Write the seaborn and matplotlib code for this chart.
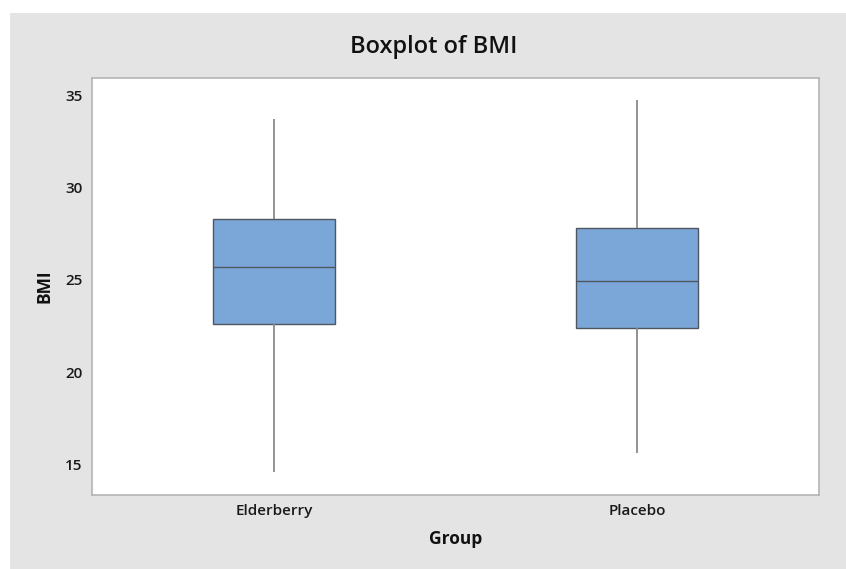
import pandas as pd
import matplotlib.pyplot as plt
import seaborn as sns
from matplotlib.patches import Rectangle

# five-number summaries: min, Q1, median, Q3, max
groups = ['Elderberry', 'Placebo']
elderberry_bmi = [14.61, 22.62, 25.72, 28.29, 33.73]
placebo_bmi = [15.61, 22.40, 24.95, 27.80, 34.76]
y_ticks = [15, 20, 25, 30, 35]

df = pd.DataFrame({
    'Group': [groups[0]] * len(elderberry_bmi) + [groups[1]] * len(placebo_bmi),
    'BMI': elderberry_bmi + placebo_bmi,
})

sns.set_style('white')
plt.rcParams['font.family'] = ['Open Sans', 'DejaVu Sans']

W, H = 846, 569
fig = plt.figure(figsize=(W / 100, H / 100), dpi=100)
fig.patch.set_facecolor('white')
# grey chart frame, minitab style
fig.patches.append(Rectangle((10 / W, 0), 1 - 10 / W, 1 - 13 / H,
                             transform=fig.transFigure, facecolor='#e4e4e4',
                             edgecolor='none', zorder=-10))

ax = fig.add_axes([92.3 / W, 1 - 494.7 / H, (818.7 - 92.3) / W, (494.7 - 77.7) / H])
ax.set_facecolor('white')

sns.boxplot(data=df, x='Group', y='BMI', order=groups, ax=ax, width=0.334,
            whis=(0, 100), color='#7BA7D8', saturation=1, linecolor='#4f5660',
            linewidth=1.0, showcaps=False, fliersize=0,
            boxprops=dict(edgecolor='#4f5660'),
            whiskerprops=dict(color='#8a8a8a', linewidth=1.3),
            medianprops=dict(color='#4f5660', linewidth=1.0))

ax.set_xlim(-0.5, 1.5)
ax.set_ylim(13.36, 35.96)
ax.set_yticks(y_ticks)

for s in ax.spines.values():
    s.set_color('#b4b4b4')
    s.set_linewidth(1.2)

ax.tick_params(axis='both', which='major', direction='out', length=4, width=0.8,
               color='#a0a0a0', labelsize=11, pad=3)
for lab in ax.get_xticklabels() + ax.get_yticklabels():
    lab.set_fontweight('semibold')
    lab.set_color('#1a1a1a')

ax.set_xlabel('Group', fontsize=12.5, fontweight='bold', color='#111111', labelpad=8)
ax.set_ylabel('BMI', fontsize=12.5, fontweight='bold', color='#111111', labelpad=8)

fig.text(434 / W, 1 - 47 / H, 'Boxplot of BMI', ha='center', va='center',
         fontsize=17, fontweight='semibold', color='#111111')

fig.savefig('out.png', dpi=100)
